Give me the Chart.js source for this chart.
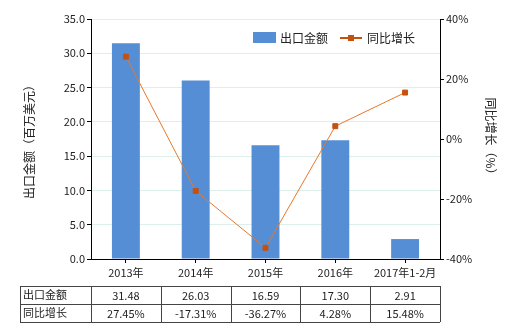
<!DOCTYPE html>
<html><head><meta charset="utf-8">
<script src="https://cdn.jsdelivr.net/npm/chart.js@4/dist/chart.umd.min.js"></script>
<style>html,body{margin:0;padding:0;background:#fff}#wrap{width:520px;height:330px;position:relative}</style>
</head><body>
<div id="wrap"><canvas id="c" width="520" height="330"></canvas></div>
<script>
const categories = ['2013年','2014年','2015年','2016年','2017年1-2月'];
const exportValues = [31.48, 26.03, 16.59, 17.30, 2.91];
const growthValues = [27.45, -17.31, -36.27, 4.28, 15.48];
const exportLabels = ['31.48','26.03','16.59','17.30','2.91'];
const growthLabels = ['27.45%','-17.31%','-36.27%','4.28%','15.48%'];
const seriesNames = ['出口金额','同比增长'];

const BAR = '#558ed5', LINE = '#e8782a', MARK = '#c5510f';
const FONT = '"Noto Sans CJK SC","Noto Sans",sans-serif';

const extras = {
  id: 'extras',
  afterDraw(chart) {
    const ctx = chart.ctx, ca = chart.chartArea, xs = chart.scales.x;
    ctx.save();
    // legend
    ctx.font = '12px ' + FONT;
    ctx.textBaseline = 'middle';
    ctx.fillStyle = BAR;
    ctx.fillRect(253, 32, 23, 11);
    ctx.fillStyle = '#222';
    ctx.textAlign = 'left';
    ctx.fillText(seriesNames[0], 280, 38);
    ctx.strokeStyle = MARK; ctx.lineWidth = 2;
    ctx.beginPath(); ctx.moveTo(340, 38); ctx.lineTo(362, 38); ctx.stroke();
    ctx.fillStyle = MARK; ctx.fillRect(348, 35, 6, 6);
    ctx.fillStyle = '#222';
    ctx.fillText(seriesNames[1], 367, 38);
    // table
    const n = categories.length;
    const cw = (ca.right - ca.left) / n;
    const tl = 20, tr = ca.right, r0 = 286, rh = 18;
    ctx.strokeStyle = '#444'; ctx.lineWidth = 1;
    ctx.beginPath();
    for (let r = 0; r <= 2; r++) { ctx.moveTo(tl, r0 + r * rh + 0.5); ctx.lineTo(tr, r0 + r * rh + 0.5); }
    ctx.moveTo(tl + 0.5, r0); ctx.lineTo(tl + 0.5, r0 + 2 * rh);
    for (let i = 0; i <= n; i++) { const x = Math.round(ca.left + i * cw) + 0.5; ctx.moveTo(x, r0); ctx.lineTo(x, r0 + 2 * rh); }
    ctx.stroke();
    ctx.font = '11px ' + FONT;
    ctx.fillStyle = '#222';
    ctx.textAlign = 'left';
    ctx.fillText(seriesNames[0], tl + 3, r0 + rh / 2);
    ctx.fillText(seriesNames[1], tl + 3, r0 + rh * 1.5);
    ctx.textAlign = 'center';
    for (let i = 0; i < n; i++) {
      const x = xs.getPixelForValue(i);
      ctx.fillText(exportLabels[i], x, r0 + rh / 2 + 1);
      ctx.fillText(growthLabels[i], x, r0 + rh * 1.5 + 1);
    }
    ctx.restore();
  }
};

new Chart(document.getElementById('c'), {
  data: {
    labels: categories,
    datasets: [
      { type: 'line', label: seriesNames[1], data: growthValues, yAxisID: 'y1',
        borderColor: LINE, borderWidth: 1, pointStyle: 'rect', pointRadius: 3.5,
        pointBackgroundColor: MARK, pointBorderColor: MARK, tension: 0, order: 0 },
      { type: 'bar', label: seriesNames[0], data: exportValues, yAxisID: 'y',
        backgroundColor: BAR, categoryPercentage: 1, barPercentage: 0.4, order: 1 }
    ]
  },
  options: {
    responsive: false, animation: false,
    layout: { padding: { left: 0, right: 0, top: 19, bottom: 0 } },
    plugins: { legend: { display: false }, tooltip: { enabled: false } },
    scales: {
      x: {
        afterFit: s => { s.height = 71; },
        grid: { display: true, drawOnChartArea: false, offset: false, tickColor: '#000', tickLength: 4 },
        border: { color: '#000' },
        ticks: { font: { size: 11, family: FONT }, color: '#222', padding: 3, maxRotation: 0 }
      },
      y: {
        position: 'left', min: 0, max: 35,
        afterFit: s => { s.width = 91; },
        ticks: { stepSize: 5, callback: v => v.toFixed(1), font: { size: 11, family: FONT }, color: '#222', padding: 2 },
        grid: { color: '#dcefea', tickColor: '#000', tickLength: 4 },
        border: { color: '#000' },
        title: { display: true, text: '出口金额（百万美元）', font: { size: 12, family: FONT }, color: '#222', padding: { top: 22 } }
      },
      y1: {
        position: 'right', min: -40, max: 40,
        afterFit: s => { s.width = 80; },
        ticks: { stepSize: 20, callback: v => v + '%', font: { size: 11, family: FONT }, color: '#222', padding: 2 },
        grid: { drawOnChartArea: false, tickColor: '#000', tickLength: 4 },
        border: { color: '#000' },
        title: { display: true, text: '同比增长（%）', font: { size: 12, family: FONT }, color: '#222', padding: { top: 22 } }
      }
    }
  },
  plugins: [extras]
});
</script>
</body></html>
